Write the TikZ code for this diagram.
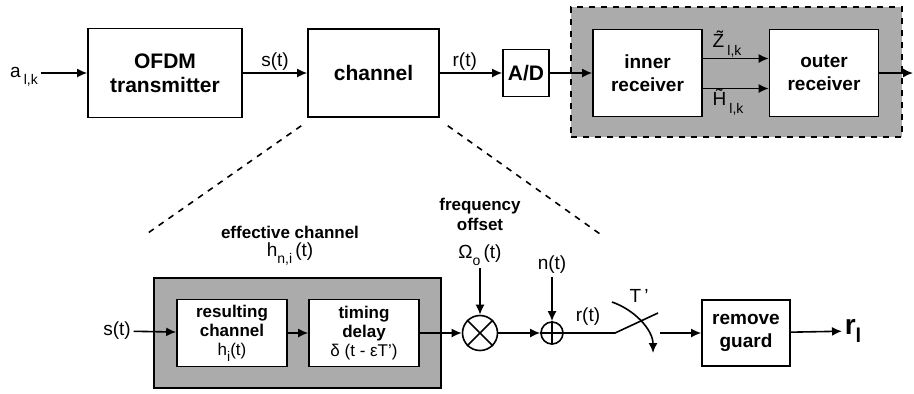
\documentclass[tikz,border=0pt]{standalone}
\usepackage{fontspec}
\setmainfont{Liberation Sans}
\usetikzlibrary{arrows.meta,positioning}

\newcommand{\lowsub}[1]{\raisebox{-0.7ex}{\fontsize{7}{8}\selectfont#1}}

\begin{document}
\begin{tikzpicture}[%
>={Latex[length=5pt,width=4.5pt]},
x=0.5pt, y=-0.5pt,
line width=0.8pt,
blk/.style={rectangle, draw, fill=white, align=center, inner sep=1pt, font=\bfseries\fontsize{10.5}{12}\selectfont},
rxblk/.style={blk, font=\bfseries\fontsize{9.5}{11.5}\selectfont, minimum width=54.5pt, minimum height=43.5pt},
chblk/.style={blk, font=\fontsize{8.5}{9.5}\selectfont, minimum width=55pt, minimum height=33.5pt},
lbl/.style={font=\fontsize{9.5}{11}\selectfont, inner sep=1pt},
bhead/.style={lbl, align=center, font=\bfseries\fontsize{8.5}{10}\selectfont},
shade/.style={rectangle, fill=black!33, draw}
]
\useasboundingbox (0,0) rectangle (914,393);

% transmitter, channel, receiver
\node[shade, dashed, minimum width=165.5pt, minimum height=65pt] (rx) at (736.5,72) {};
\node[lbl] (a) at (24,77) {a\,\lowsub{l,k}};
\node[blk, minimum width=77pt, minimum height=44.5pt] (ofdm) at (165,73) {OFDM\\transmitter};
\node[blk, minimum width=65.5pt, minimum height=44pt] (chan) at (373.5,73) {channel};
\node[blk, minimum width=23pt, minimum height=23.5pt] (ad) at (526,73) {A/D};
\node[rxblk] (inner) at (647.5,73) {inner\\receiver};
\node[rxblk] (outer) at (824,73) {outer\\receiver};
\coordinate (out) at (913,73);
\node[lbl] (zlk) at (727,44) {\~{Z}\,\lowsub{l,k}};
\node[lbl] (hlk) at (728,102) {\~{H}\,\lowsub{l,k}};

\path[->] (a.east |- ofdm) edge (ofdm);
\path[->] (ofdm) edge node[lbl, above] {s(t)} (chan);
\path[->] (chan) edge node[lbl, above, pos=0.4] {r(t)} (ad);
\path[->] (ad) edge (inner);
\path[->] ([yshift=7.25pt]inner.east) edge ([yshift=7.25pt]outer.west);
\path[->] ([yshift=-7.75pt]inner.east) edge ([yshift=-7.75pt]outer.west);
\path[->] (outer) edge (out);

% zoom into the channel
\coordinate (zl) at (148,233);
\coordinate (zr) at (600,234);
\draw[dashed] ([shift={(-6,8)}]chan.south west) -- (zl);
\draw[dashed] ([shift={(8,8)}]chan.south east) -- (zr);

% effective channel
\node[shade, minimum width=143.5pt, minimum height=55pt] (eff) at (297.5,333) {};
\node[chblk] (res) at (232,333) {\textbf{resulting}\\\textbf{channel}\\h\lowsub{i}(t)};
\node[chblk] (delay) at (364,333) {\textbf{timing}\\\textbf{delay}\\δ (t - εT')};
\node[bhead] (effl) at (290,232) {effective channel};
\node[lbl] (hni) at (290,254) {h\lowsub{n,i}\,(t)};
\node[lbl] (sin) at (117,331) {s(t)};

% offset, noise, sampling
\node[draw, circle, minimum size=17.5pt, inner sep=0pt] (mult) at (480,333) {};
\draw (mult.north west) -- (mult.south east) (mult.north east) -- (mult.south west);
\node[draw, circle, minimum size=11pt, inner sep=0pt] (plus) at (552,333) {};
\draw (plus.north) -- (plus.south) (plus.west) -- (plus.east);
\node[bhead] (foff) at (480,214) {frequency\\offset};
\node[lbl] (omega) at (480,255) {Ω\lowsub{o}\,(t)};
\node[lbl] (noise) at (552,265) {n(t)};
\node[lbl] (rt) at (588,317) {r(t)};
\node[lbl] (tp) at (639,296) {T\,'};
\node[blk, font=\bfseries\fontsize{9.5}{11.5}\selectfont, minimum width=44pt, minimum height=33pt] (guard) at (746,333) {remove\\guard};
\node[font=\bfseries\fontsize{14}{16}\selectfont, inner sep=1pt] (rl) at (853,331) {r\raisebox{-0.6ex}{\fontsize{10}{11}\selectfont l}};
\coordinate (sw1) at (615,333);
\coordinate (sw2) at (658,313);
\coordinate (sw3) at (660,333);
\coordinate (t1) at (612,302);
\coordinate (t2) at (653,353);

\path[->] (sin) edge (res);
\path[->] (res) edge (delay);
\path[->] (delay) edge (mult);
\path[->] (omega) edge (mult);
\path[->] (mult) edge (plus);
\path[->] (noise) edge (plus);
\draw (plus) -- (sw1) -- (sw2);
\draw[->] (t1) .. controls (635,310) and (653,330) .. (t2);
\path[->] (sw3) edge (guard);
\path[->] (guard) edge (rl);
\end{tikzpicture}
\end{document}
